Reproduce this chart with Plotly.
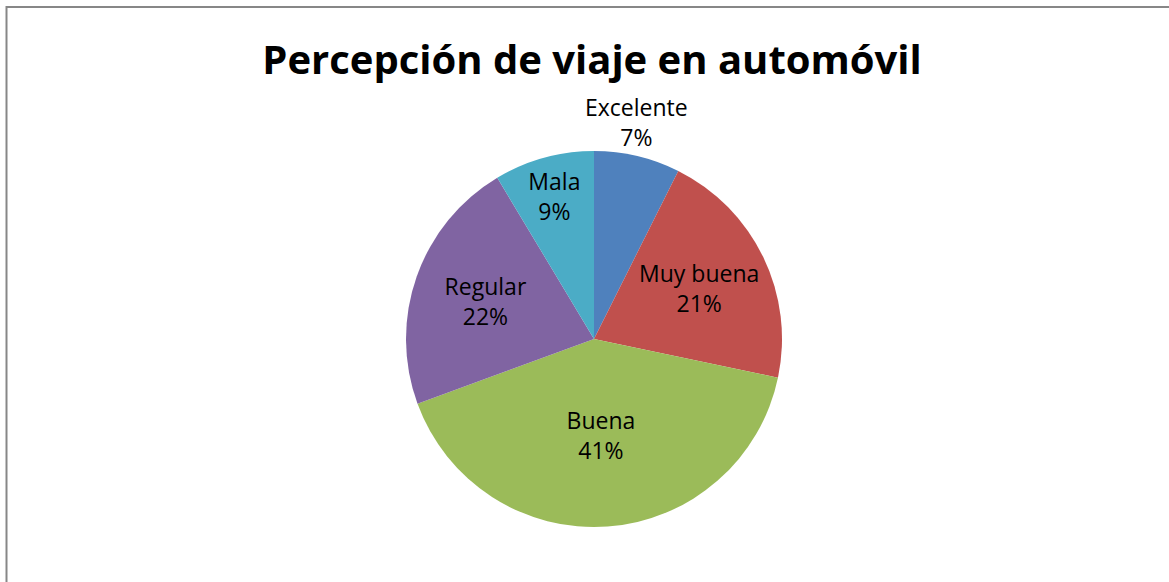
import plotly.graph_objects as go

categorias = ['Excelente', 'Muy buena', 'Buena', 'Regular', 'Mala']
valores = [7.4, 20.9, 41.1, 22.0, 8.6]
colores = ['#4F81BD', '#C0504D', '#9BBB59', '#8064A2', '#4BACC6']
posicion = ['none', 'inside', 'inside', 'inside', 'inside']

fuente = dict(family='Open Sans', size=23, color='black')

fig = go.Figure()
fig.add_trace(
    go.Pie(
        labels=categorias, values=valores,
        sort=False, direction='clockwise', rotation=0,
        marker=dict(colors=colores, line=dict(width=0)),
        texttemplate='%{label}<br>%{percent:.0%}',
        textposition=posicion,
        insidetextorientation='horizontal',
        textfont=fuente,
        insidetextfont=fuente,
        hoverinfo='label+percent',
        showlegend=False,
        domain=dict(x=[406 / 1169, 782 / 1169], y=[1 - 527 / 582, 1 - 151 / 582]),
    )
)

# etiqueta de "Excelente" fuera del pastel, como en el original
pct0 = round(100 * valores[0] / sum(valores))
fig.add_annotation(
    text=f'{categorias[0]}<br>{pct0}%', showarrow=False,
    xref='paper', yref='paper', x=636 / 1169, y=1 - 122 / 582,
    xanchor='center', yanchor='middle', font=fuente,
)

fig.update_layout(
    width=1169, height=582,
    margin=dict(l=0, r=0, t=0, b=0),
    paper_bgcolor='white',
    uniformtext=dict(minsize=23, mode='show'),
    title=dict(text='<b>Percepción de viaje en automóvil</b>', x=592 / 1169, xanchor='center',
               y=1 - 60 / 582, yanchor='middle',
               font=dict(family='Open Sans', size=40, color='black')),
    shapes=[dict(type='rect', xref='paper', yref='paper', x0=6.5 / 1169, x1=1.02, y0=-0.02, y1=1 - 7 / 582,
                 line=dict(color='#878787', width=2))],
)

fig.write_html('out.html', config={'displayModeBar': False},
               post_script="document.body.style.margin='0';")
